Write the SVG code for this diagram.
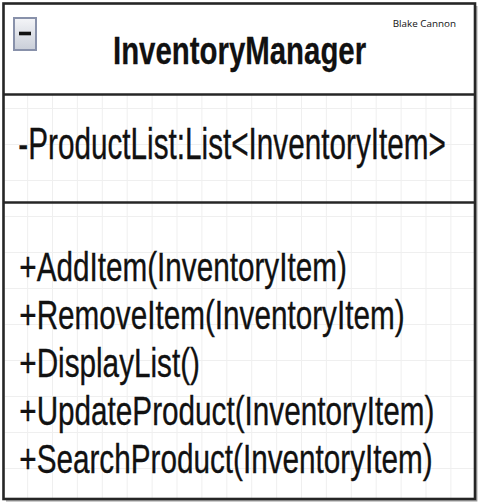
<svg xmlns="http://www.w3.org/2000/svg" width="478" height="504" viewBox="0 0 478 504">
  <style>
    .txt { font-family: "Liberation Sans", Arial, Helvetica, sans-serif; fill: #111; font-size: 29.7px; stroke: #111; stroke-width: 0.25; }
    .title { font-weight: bold; font-size: 29.4px; stroke-width: 0.2; }
    .sig { font-family: "Open Sans", "Noto Sans", sans-serif; font-size: 9.7px; fill: #111; }
    .edge { stroke: #262626; stroke-width: 2.6; fill: none; }
    .shadow { stroke: #9a9a9a; stroke-width: 1.2; fill: none; }
  </style>
  <defs>
    <pattern id="grid" x="2.2" y="0" width="24.9" height="36" patternUnits="userSpaceOnUse">
      <path d="M0 0.5H24.9M0.5 0V36" stroke="#efefef" stroke-width="1" fill="none"/>
    </pattern>
    <linearGradient id="btn" x1="0" y1="0" x2="0" y2="1">
      <stop offset="0" stop-color="#f4f5f8"/>
      <stop offset="1" stop-color="#c9ced8"/>
    </linearGradient>
  </defs>
  <rect width="478" height="504" fill="#ffffff"/>
  <g id="connectors"/>
  <g id="InventoryManager">
    <rect x="3.5" y="3.5" width="471.5" height="495.5" fill="#ffffff"/>
    <rect x="4.5" y="95" width="469.5" height="403" fill="url(#grid)"/>
    <path class="shadow" d="M476.8 6V500.8H6"/>
    <rect class="edge" x="3.5" y="3.5" width="471.5" height="495.5"/>
    <line class="edge" x1="3.5" y1="94.5" x2="475" y2="94.5"/>
    <line class="edge" x1="3.5" y1="202.5" x2="475" y2="202.5"/>
    <g id="collapse">
      <rect x="14" y="18" width="22" height="32" fill="url(#btn)" stroke="#8891aa" stroke-width="2"/>
      <rect x="19" y="31.7" width="12" height="3.6" fill="#111"/>
    </g>
    <text class="txt title" transform="translate(113,64.4) scale(1,1.31)">InventoryManager</text>
    <text class="sig" x="392.7" y="26.7" textLength="63.3" lengthAdjust="spacingAndGlyphs">Blake Cannon</text>
    <text class="txt" transform="translate(18.3,159.3) scale(1,1.5)">-ProductList:List&lt;InventoryItem&gt;</text>
    <text class="txt" transform="translate(19.3,281) scale(1,1.36)">+AddItem(InventoryItem)</text>
    <text class="txt" transform="translate(19.3,329) scale(1,1.36)">+RemoveItem(InventoryItem)</text>
    <text class="txt" transform="translate(19.3,377) scale(1,1.36)">+DisplayList()</text>
    <text class="txt" transform="translate(19.3,425) scale(1,1.36)">+UpdateProduct(InventoryItem)</text>
    <text class="txt" transform="translate(19.3,473) scale(1,1.36)">+SearchProduct(InventoryItem)</text>
  </g>
</svg>
